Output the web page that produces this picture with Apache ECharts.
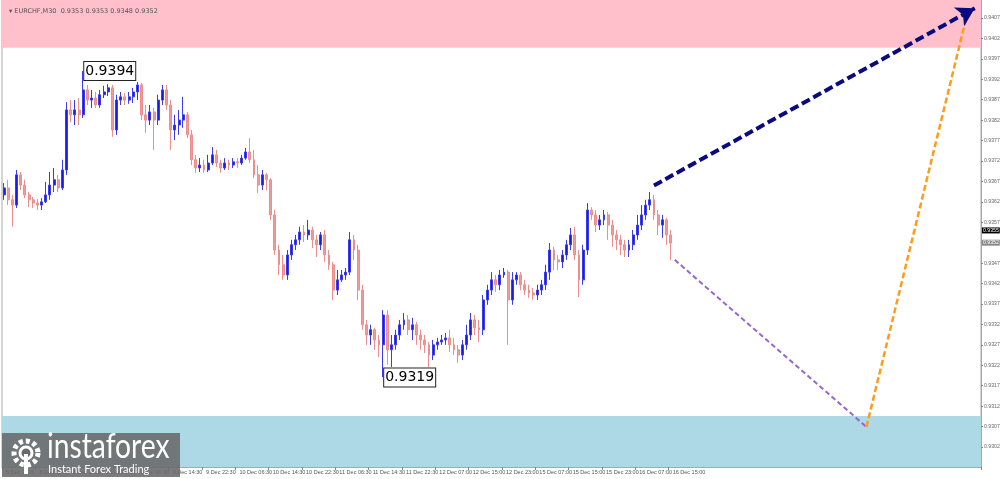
<!DOCTYPE html>
<html><head><meta charset="utf-8">
<script src="https://cdn.jsdelivr.net/npm/echarts@6/dist/echarts.min.js"></script>
<style>html,body{margin:0;padding:0;background:#fff;}#c{width:1000px;height:479px;}</style>
</head><body><div id="c"></div>
<script>
// ---- data ----
const opens = [0.93637,0.93654,0.93625,0.93612,0.93686,0.93661,0.93637,0.93625,0.93617,0.93612,0.93620,0.93637,0.93661,0.93674,0.93654,0.93698,0.93845,0.93833,0.93845,0.93833,0.93894,0.93869,0.93874,0.93857,0.93882,0.93889,0.93899,0.93796,0.93869,0.93877,0.93869,0.93877,0.93889,0.93906,0.93833,0.93820,0.93840,0.93820,0.93869,0.93894,0.93857,0.93796,0.93808,0.93820,0.93833,0.93784,0.93723,0.93703,0.93710,0.93698,0.93715,0.93735,0.93715,0.93703,0.93715,0.93710,0.93718,0.93715,0.93727,0.93742,0.93723,0.93686,0.93661,0.93686,0.93674,0.93588,0.93502,0.93466,0.93441,0.93490,0.93515,0.93527,0.93546,0.93539,0.93551,0.93527,0.93515,0.93539,0.93490,0.93466,0.93404,0.93429,0.93441,0.93448,0.93527,0.93502,0.93404,0.93319,0.93294,0.93307,0.93282,0.93270,0.93343,0.93258,0.93270,0.93294,0.93319,0.93331,0.93307,0.93319,0.93294,0.93282,0.93270,0.93245,0.93270,0.93277,0.93282,0.93287,0.93270,0.93258,0.93245,0.93270,0.93294,0.93331,0.93312,0.93307,0.93380,0.93404,0.93429,0.93417,0.93441,0.93448,0.93380,0.93429,0.93441,0.93417,0.93404,0.93397,0.93392,0.93404,0.93417,0.93448,0.93502,0.93478,0.93473,0.93490,0.93515,0.93539,0.93490,0.93429,0.93502,0.93600,0.93588,0.93563,0.93576,0.93588,0.93563,0.93539,0.93527,0.93515,0.93502,0.93515,0.93539,0.93563,0.93588,0.93612,0.93625,0.93588,0.93563,0.93576,0.93539];
const closes = [0.93654,0.93625,0.93612,0.93686,0.93661,0.93637,0.93625,0.93617,0.93612,0.93620,0.93637,0.93661,0.93674,0.93654,0.93698,0.93845,0.93833,0.93845,0.93833,0.93894,0.93869,0.93874,0.93857,0.93882,0.93889,0.93899,0.93796,0.93869,0.93877,0.93869,0.93877,0.93889,0.93906,0.93833,0.93820,0.93840,0.93820,0.93869,0.93894,0.93857,0.93796,0.93808,0.93820,0.93833,0.93784,0.93723,0.93703,0.93710,0.93698,0.93715,0.93735,0.93715,0.93703,0.93715,0.93710,0.93718,0.93715,0.93727,0.93742,0.93723,0.93686,0.93661,0.93686,0.93674,0.93588,0.93502,0.93466,0.93441,0.93490,0.93515,0.93527,0.93546,0.93539,0.93551,0.93527,0.93515,0.93539,0.93490,0.93466,0.93404,0.93429,0.93441,0.93448,0.93527,0.93502,0.93404,0.93319,0.93294,0.93307,0.93282,0.93270,0.93343,0.93258,0.93270,0.93294,0.93319,0.93331,0.93307,0.93319,0.93294,0.93282,0.93270,0.93245,0.93270,0.93277,0.93282,0.93287,0.93270,0.93258,0.93245,0.93270,0.93294,0.93331,0.93312,0.93307,0.93380,0.93404,0.93429,0.93417,0.93441,0.93448,0.93380,0.93429,0.93441,0.93417,0.93404,0.93397,0.93392,0.93404,0.93417,0.93448,0.93502,0.93478,0.93473,0.93490,0.93515,0.93539,0.93490,0.93429,0.93502,0.93600,0.93588,0.93563,0.93576,0.93588,0.93563,0.93539,0.93527,0.93515,0.93502,0.93515,0.93539,0.93563,0.93588,0.93612,0.93625,0.93588,0.93563,0.93576,0.93539,0.93519];
const lows = [0.93625,0.93612,0.93559,0.93605,0.93649,0.93629,0.93607,0.93605,0.93600,0.93600,0.93617,0.93625,0.93644,0.93644,0.93649,0.93686,0.93815,0.93808,0.93808,0.93825,0.93857,0.93850,0.93850,0.93850,0.93874,0.93879,0.93779,0.93784,0.93857,0.93857,0.93860,0.93862,0.93869,0.93820,0.93789,0.93808,0.93747,0.93808,0.93857,0.93845,0.93747,0.93771,0.93784,0.93801,0.93776,0.93710,0.93691,0.93693,0.93691,0.93693,0.93710,0.93705,0.93691,0.93698,0.93698,0.93703,0.93703,0.93710,0.93723,0.93715,0.93678,0.93642,0.93649,0.93649,0.93576,0.93490,0.93441,0.93429,0.93429,0.93478,0.93502,0.93515,0.93522,0.93527,0.93507,0.93485,0.93502,0.93473,0.93453,0.93380,0.93392,0.93424,0.93429,0.93441,0.93478,0.93380,0.93307,0.93270,0.93270,0.93258,0.93240,0.93191,0.93221,0.93216,0.93258,0.93282,0.93307,0.93294,0.93282,0.93270,0.93258,0.93250,0.93216,0.93233,0.93258,0.93270,0.93270,0.93253,0.93245,0.93226,0.93233,0.93258,0.93282,0.93294,0.93277,0.93294,0.93368,0.93392,0.93399,0.93404,0.93434,0.93270,0.93368,0.93417,0.93404,0.93392,0.93385,0.93380,0.93380,0.93392,0.93404,0.93429,0.93453,0.93453,0.93458,0.93478,0.93502,0.93478,0.93387,0.93417,0.93490,0.93576,0.93546,0.93551,0.93563,0.93527,0.93510,0.93502,0.93490,0.93485,0.93485,0.93502,0.93527,0.93551,0.93576,0.93600,0.93576,0.93539,0.93532,0.93515,0.93478];
const highs = [0.93666,0.93674,0.93637,0.93698,0.93693,0.93674,0.93644,0.93632,0.93627,0.93629,0.93669,0.93693,0.93703,0.93686,0.93723,0.93864,0.93869,0.93869,0.93874,0.93940,0.93906,0.93894,0.93889,0.93894,0.93904,0.93908,0.93906,0.93882,0.93889,0.93886,0.93889,0.93899,0.93913,0.93911,0.93857,0.93857,0.93850,0.93882,0.93906,0.93906,0.93869,0.93833,0.93845,0.93877,0.93840,0.93796,0.93735,0.93727,0.93723,0.93735,0.93754,0.93747,0.93723,0.93727,0.93723,0.93727,0.93727,0.93735,0.93752,0.93776,0.93747,0.93710,0.93698,0.93691,0.93678,0.93600,0.93515,0.93490,0.93502,0.93527,0.93539,0.93559,0.93563,0.93576,0.93559,0.93539,0.93546,0.93551,0.93502,0.93473,0.93453,0.93453,0.93458,0.93546,0.93539,0.93515,0.93417,0.93331,0.93319,0.93312,0.93294,0.93355,0.93355,0.93294,0.93307,0.93331,0.93348,0.93343,0.93336,0.93326,0.93307,0.93294,0.93277,0.93282,0.93287,0.93294,0.93299,0.93307,0.93287,0.93270,0.93282,0.93319,0.93348,0.93343,0.93331,0.93392,0.93417,0.93448,0.93441,0.93453,0.93458,0.93453,0.93448,0.93448,0.93448,0.93429,0.93417,0.93409,0.93417,0.93429,0.93466,0.93519,0.93510,0.93490,0.93502,0.93527,0.93556,0.93559,0.93502,0.93515,0.93617,0.93607,0.93600,0.93588,0.93600,0.93595,0.93576,0.93551,0.93539,0.93527,0.93527,0.93551,0.93588,0.93612,0.93625,0.93644,0.93637,0.93600,0.93588,0.93581,0.93551];
const slotCount = 235; // hourly slots incl. future space
const tickLabels = ["5 Dec 2025","8 Dec 06:30","8 Dec 14:30","8 Dec 22:30","9 Dec 06:30","9 Dec 14:30","9 Dec 22:30","10 Dec 06:30","10 Dec 14:30","10 Dec 22:30","11 Dec 06:30","11 Dec 14:30","11 Dec 22:30","12 Dec 07:00","12 Dec 15:00","12 Dec 23:00","15 Dec 07:00","15 Dec 15:00","15 Dec 23:00","16 Dec 07:00","16 Dec 15:00"];
const priceTicks = [0.9302,0.9307,0.9312,0.9317,0.9322,0.9327,0.9332,0.9337,0.9342,0.9347,0.9352,0.9357,0.9362,0.9367,0.9372,0.9377,0.9382,0.9387,0.9392,0.9397,0.9402,0.9407];
const yRange = [0.92971, 0.94114];
const resistanceZone = [0.93997, 0.94114];
const supportZone = [0.92971, 0.93096];
const extremes = [[19, 0.9394, "0.9394"], [91, 0.9319, "0.9319"]];
const priceMarks = [[0.9355, "0.9355", "#000000"], [0.9352, "0.9352", "#8a8a8a"]];
const headerQuote = ["EURCHF,M30", "0.9353", "0.9353", "0.9348", "0.9352"];
const arrowUp = [[156, 0.93660], [233, 0.94094]];
const purpleLeg = [[161, 0.93478], [207, 0.93069]];
const orangeLeg = [[207, 0.93069], [231, 0.94072]];

// ---- build ----
const cats = Array.from({length: slotCount}, (_, i) => String(i));
const ohlc = opens.map((o, i) => [o, closes[i], lows[i], highs[i]]);
const chart = echarts.init(document.getElementById('c'));
const FONT = 'DejaVu Sans';
const showTick = (i) => i % 8 === 0 && i / 8 < tickLabels.length;
chart.setOption({
  animation: false,
  backgroundColor: '#ffffff',
  title: {
    text: '\u25BE ' + headerQuote[0] + '  ' + headerQuote.slice(1).join(' '),
    left: 4, top: 3,
    textStyle: {fontSize: 6.5, color: '#555', fontWeight: 'normal', fontFamily: FONT}
  },
  grid: {left: 2, right: 19, top: 0, bottom: 12, show: true, borderColor: '#a8a8a8', borderWidth: 1, outerBoundsMode: 'none', containLabel: false},
  xAxis: {
    type: 'category', data: cats, boundaryGap: true,
    axisLine: {show: true, lineStyle: {color: '#a8a8a8'}},
    axisTick: {show: true, length: 3, interval: showTick, lineStyle: {color: '#888'}},
    axisLabel: {
      interval: showTick, hideOverlap: false,
      formatter: (v, i) => tickLabels[i / 8] || '',
      fontSize: 5.5, color: '#555', fontFamily: 'Liberation Sans', margin: 2, align: 'left', padding: [0, 0, 0, 2]
    },
    splitLine: {show: false}
  },
  yAxis: {
    type: 'value', position: 'right', min: yRange[0], max: yRange[1], scale: true,
    axisLine: {show: true, lineStyle: {color: '#a8a8a8'}},
    axisTick: {show: true, length: 2, customValues: priceTicks, lineStyle: {color: '#888'}},
    axisLabel: {customValues: priceTicks, formatter: (v) => v.toFixed(4), fontSize: 5.2, color: '#666', fontFamily: 'Liberation Sans', margin: 3},
    splitLine: {show: false}
  },
  series: [
    {
      type: 'candlestick', data: ohlc, barWidth: 2.4,
      itemStyle: {color: '#1a1aee', color0: '#f29a9a', borderColor: '#3a3af0', borderColor0: '#ef8c8c', borderWidth: 1},
      markArea: {
        silent: true,
        data: [
          [{yAxis: resistanceZone[0], itemStyle: {color: '#ffc0cb'}}, {yAxis: resistanceZone[1]}],
          [{yAxis: supportZone[0], itemStyle: {color: '#add8e6'}}, {yAxis: supportZone[1]}]
        ]
      },
      markPoint: {
        symbol: 'rect', symbolSize: 0, silent: true,
        data: extremes.map(e => ({
          coord: [String(e[0]), e[1]], value: e[2],
          label: {
            show: true, position: 'right', distance: 1, formatter: e[2],
            fontSize: 14, color: '#000', fontFamily: FONT,
            backgroundColor: '#fff', borderColor: '#222', borderWidth: 1, padding: [3, 1, 1, 1]
          }
        })).concat(priceMarks.map(m => ({
          coord: [String(slotCount - 1), m[0]], value: m[1],
          label: {show: true, position: 'right', distance: 3, formatter: m[1], color: '#fff', backgroundColor: m[2], fontSize: 5.2, padding: [1, 1, 0, 1], fontFamily: 'Liberation Sans'}
        })))
      }
    },
    {
      type: 'line', data: purpleLeg.map(p => [String(p[0]), p[1]]), symbol: 'none', silent: true,
      lineStyle: {color: '#9966cc', width: 2, type: [5, 3]}
    },
    {
      type: 'line', data: orangeLeg.map(p => [String(p[0]), p[1]]), symbol: 'none', silent: true,
      lineStyle: {color: '#ff9a1a', width: 2.5, type: [6, 3]}
    },
    {
      type: 'line', data: [], silent: true,
      markLine: {
        silent: true, symbol: ['none', 'arrow'], symbolSize: [16, 18],
        lineStyle: {color: '#0a0a80', width: 4, type: [9, 4]},
        label: {show: false},
        data: [[{coord: [String(arrowUp[0][0]), arrowUp[0][1]]}, {coord: [String(arrowUp[1][0]), arrowUp[1][1]]}]]
      }
    }
  ],
  graphic: [
    {type: 'rect', z: 100, zlevel: 1, silent: true, shape: {x: 2, y: 433, width: 178, height: 44}, style: {fill: 'rgba(105,105,105,0.88)'}},
    {type: 'circle', z: 101, zlevel: 1, silent: true, shape: {cx: 26, cy: 453, r: 12}, style: {fill: 'none', stroke: '#fff', lineWidth: 5, lineDash: [4, 3]}},
    {type: 'circle', z: 101, zlevel: 1, silent: true, shape: {cx: 26, cy: 453, r: 6}, style: {fill: '#6a6a6a', stroke: '#fff', lineWidth: 3}},
    {type: 'rect', z: 101, zlevel: 1, silent: true, shape: {x: 24, y: 454, width: 4, height: 20}, style: {fill: '#fff'}},
    {type: 'text', z: 101, zlevel: 1, silent: true, x: 47, y: 430, scaleX: 0.83, style: {text: 'instaforex', fill: '#fff', fontSize: 34, fontFamily: 'Lato', verticalAlign: 'top'}},
    {type: 'text', z: 101, zlevel: 1, silent: true, x: 48, y: 464, style: {text: 'Instant Forex Trading', fill: '#fff', fontSize: 11, fontFamily: 'Lato', verticalAlign: 'top'}}
  ]
});
</script></body></html>
